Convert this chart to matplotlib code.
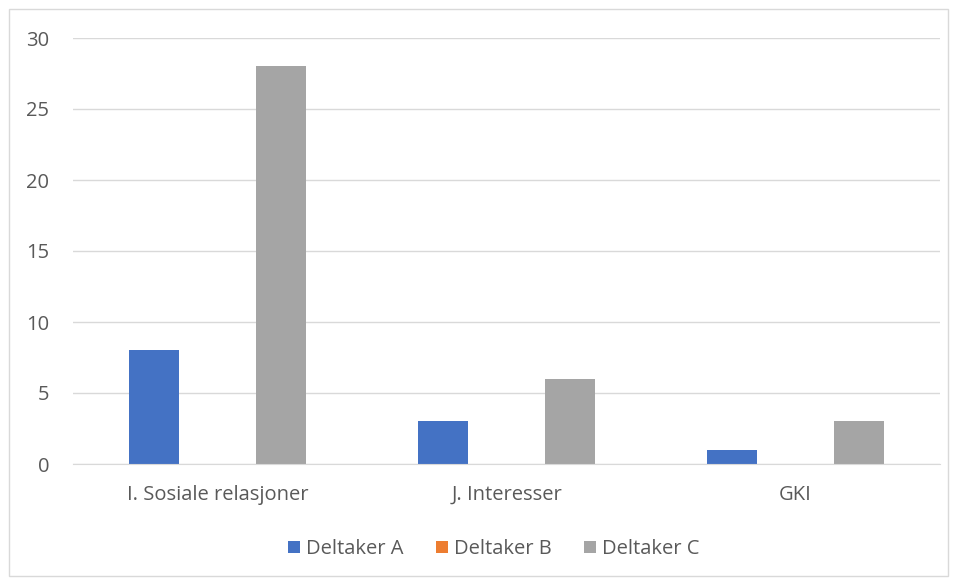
import numpy as np
import matplotlib
matplotlib.use("Agg")
from matplotlib import pyplot as plt
from matplotlib.patches import Rectangle

# Data
categories = ["I. Sosiale relasjoner", "J. Interesser", "GKI"]
series_names = ["Deltaker A", "Deltaker B", "Deltaker C"]
deltaker_a = [8, 3, 1]
deltaker_b = [0, 0, 0]
deltaker_c = [28, 6, 3]
y_ticks = [0, 5, 10, 15, 20, 25, 30]

colors = ["#4472C4", "#ED7D31", "#A5A5A5"]
text_color = "#595959"
fs = 14.5

plt.rcParams["font.family"] = ["Open Sans", "DejaVu Sans"]

W, H = 956, 580
fig = plt.figure(figsize=(W / 100, H / 100), dpi=100)
ax = fig.add_axes([73 / W, 1 - 464 / H, (940 - 73) / W, (464 - 38) / H])

x = np.arange(len(categories))
bar_w = 0.173
offset = 0.221
for i, (vals, name) in enumerate(zip([deltaker_a, deltaker_b, deltaker_c], series_names)):
    ax.bar(x + (i - 1) * offset, vals, bar_w, color=colors[i], label=name, zorder=3)

ax.set_xlim(-0.5, len(categories) - 0.5)
ax.set_ylim(0, 30)
ax.set_yticks(y_ticks)
ax.set_xticks(x)
ax.set_xticklabels(categories)
ax.tick_params(axis="both", length=0, labelsize=fs, colors=text_color)
ax.tick_params(axis="y", pad=17)
ax.tick_params(axis="x", pad=15)
ax.grid(axis="y", color="#D9D9D9", linewidth=1, zorder=0)
for side in ["top", "right", "left"]:
    ax.spines[side].set_visible(False)
ax.spines["bottom"].set_color("#D9D9D9")
ax.spines["bottom"].set_zorder(4)

leg = fig.legend(loc="center", bbox_to_anchor=(494 / W, 1 - 549 / H), ncol=3, frameon=False,
                 fontsize=fs, handlelength=0.6, handleheight=0.6, handletextpad=0.3,
                 columnspacing=1.6)
for t in leg.get_texts():
    t.set_color(text_color)

fig.patches.append(Rectangle((9 / W, 4 / H), (948 - 9) / W, (571 - 4) / H,
                             transform=fig.transFigure, fill=False,
                             edgecolor="#D9D9D9", linewidth=1))

fig.savefig("out.png", dpi=100)
